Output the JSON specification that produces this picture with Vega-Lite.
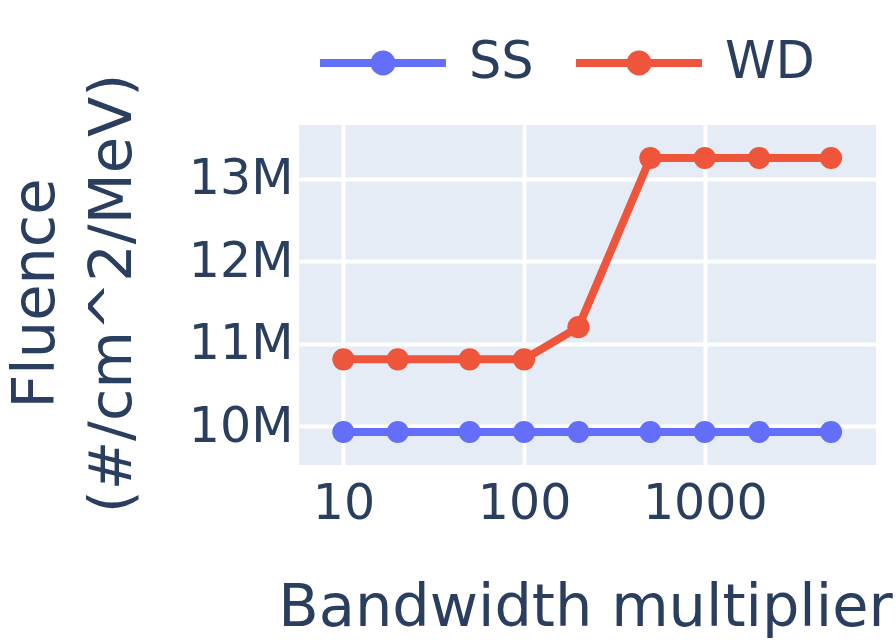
{
  "$schema": "https://vega.github.io/schema/vega-lite/v6.json",
  "width": 577,
  "height": 340,
  "autosize": {"type": "none"},
  "padding": {"left": 299, "top": 125, "right": 20, "bottom": 177},
  "background": "white",
  "config": {
    "view": {"fill": "#E5ECF6", "stroke": null},
    "font": "DejaVu Sans",
    "axis": {"labelColor": "#2a3f5f", "titleColor": "#2a3f5f", "labelFont": "DejaVu Sans", "titleFont": "DejaVu Sans", "titleFontWeight": "normal", "gridColor": "white", "gridWidth": 4, "domain": false, "ticks": false},
    "legend": {"labelColor": "#2a3f5f", "labelFont": "DejaVu Sans"}
  },
  "data": {
    "values": [
      {"series": "SS", "multiplier": 10, "fluence": 9930000},
      {"series": "SS", "multiplier": 20, "fluence": 9930000},
      {"series": "SS", "multiplier": 50, "fluence": 9930000},
      {"series": "SS", "multiplier": 100, "fluence": 9930000},
      {"series": "SS", "multiplier": 200, "fluence": 9930000},
      {"series": "SS", "multiplier": 500, "fluence": 9930000},
      {"series": "SS", "multiplier": 1000, "fluence": 9930000},
      {"series": "SS", "multiplier": 2000, "fluence": 9930000},
      {"series": "SS", "multiplier": 5000, "fluence": 9930000},
      {"series": "WD", "multiplier": 10, "fluence": 10810000},
      {"series": "WD", "multiplier": 20, "fluence": 10810000},
      {"series": "WD", "multiplier": 50, "fluence": 10810000},
      {"series": "WD", "multiplier": 100, "fluence": 10810000},
      {"series": "WD", "multiplier": 200, "fluence": 11200000},
      {"series": "WD", "multiplier": 500, "fluence": 13250000},
      {"series": "WD", "multiplier": 1000, "fluence": 13250000},
      {"series": "WD", "multiplier": 2000, "fluence": 13250000},
      {"series": "WD", "multiplier": 5000, "fluence": 13250000}
    ]
  },
  "encoding": {
    "x": {
      "field": "multiplier", "type": "quantitative",
      "scale": {"type": "log", "domain": [5.68, 8870], "nice": false, "zero": false},
      "axis": {"values": [10, 100, 1000], "format": "d", "labelFontSize": 49, "labelPadding": 14,
               "title": "Bandwidth multiplier", "titleFontSize": 59, "titleX": 286, "titleY": 160, "titleBaseline": "alphabetic", "titleAnchor": "middle", "titleAlign": "center"}
    },
    "y": {
      "field": "fluence", "type": "quantitative",
      "scale": {"domain": [9530000, 13650000], "nice": false, "zero": false},
      "axis": {"values": [10000000, 11000000, 12000000, 13000000], "format": "~s", "labelFontSize": 49, "labelPadding": 6,
               "title": ["Fluence", "(#/cm^2/MeV)"], "titleFontSize": 59, "titleAngle": -90, "titleX": -246, "titleY": 168, "titleBaseline": "alphabetic", "titleAlign": "center", "titleLineHeight": 77}
    },
    "color": {
      "field": "series", "type": "nominal",
      "scale": {"domain": ["SS", "WD"], "range": ["#636efa", "#EF553B"]},
      "legend": {
        "title": null, "orient": "none", "direction": "horizontal",
        "legendX": 17, "legendY": -129,
        "symbolType": "M-1,0H1M-0.135,0A0.135,0.135,0,1,0,0.135,0A0.135,0.135,0,1,0,-0.135,0Z",
        "symbolSize": 15876, "symbolStrokeWidth": 8, "symbolOpacity": 1,
        "labelFontSize": 51, "labelOffset": 19, "columnPadding": 26, "padding": 0,
        "encode": {"symbols": {"update": {"fill": {"scale": "color", "field": "value"}, "stroke": {"scale": "color", "field": "value"}, "opacity": {"value": 1}}}}
      }
    }
  },
  "layer": [
    {"mark": {"type": "line", "strokeWidth": 8}},
    {"mark": {"type": "point", "filled": true, "size": 490, "opacity": 1, "shape": "circle"}}
  ]
}
